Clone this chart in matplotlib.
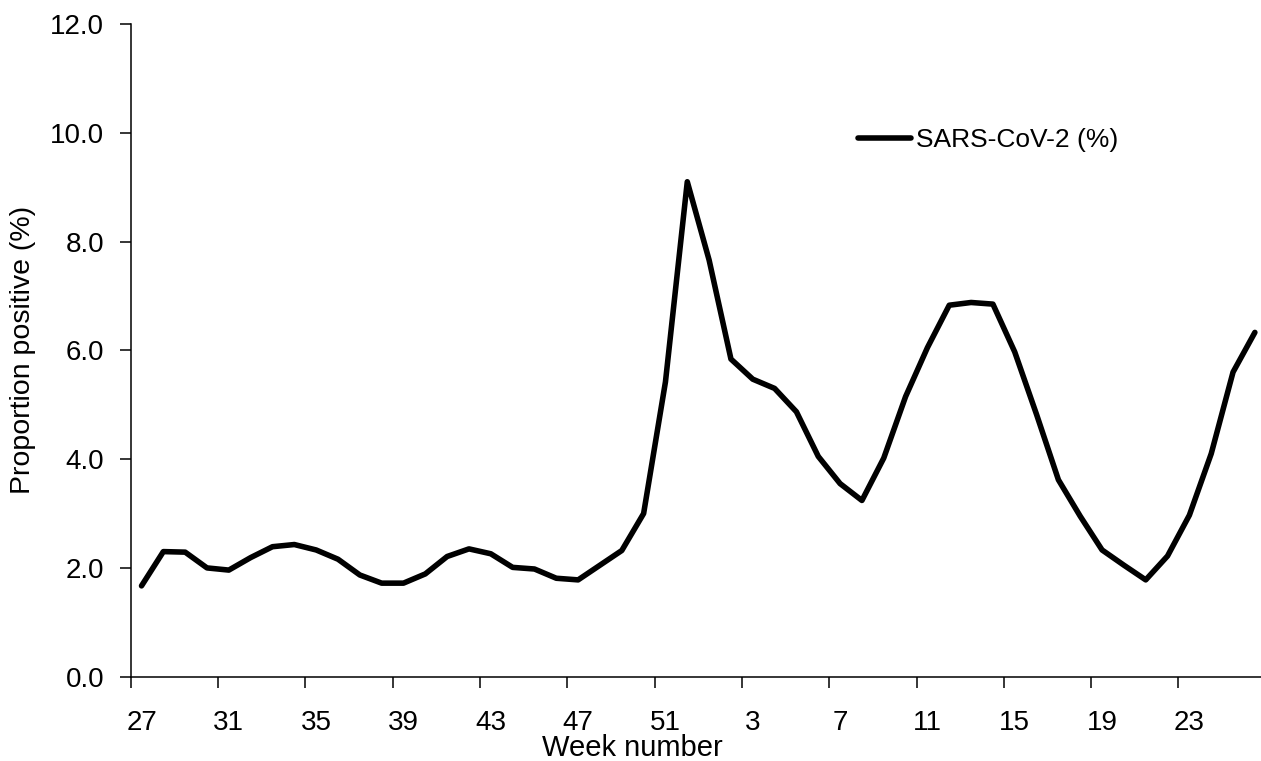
#!/usr/bin/env python3
"""Weekly SARS-CoV-2 proportion positive, line chart."""

import matplotlib
matplotlib.use('Agg')
import matplotlib.pyplot as plt

# week numbers (categories), week 27 through week 26 of the following year
WEEKS = [27, 28, 29, 30, 31, 32, 33, 34, 35, 36, 37, 38, 39, 40, 41, 42, 43,
         44, 45, 46, 47, 48, 49, 50, 51, 52, 1, 2, 3, 4, 5, 6, 7, 8, 9, 10,
         11, 12, 13, 14, 15, 16, 17, 18, 19, 20, 21, 22, 23, 24, 25, 26]

# proportion positive (%)
SARS_COV2 = [1.67, 2.30, 2.29, 2.00, 1.96, 2.19, 2.39, 2.43, 2.33, 2.16,
             1.87, 1.72, 1.72, 1.89, 2.21, 2.35, 2.26, 2.01, 1.98, 1.81,
             1.78, 2.05, 2.32, 3.00, 5.42, 9.10, 7.66, 5.84, 5.47, 5.30,
             4.87, 4.05, 3.55, 3.24, 4.02, 5.15, 6.05, 6.83, 6.88, 6.85,
             5.97, 4.82, 3.62, 2.95, 2.33, 2.05, 1.78, 2.22, 2.97, 4.10,
             5.60, 6.33]

Y_TICKS = [0, 2, 4, 6, 8, 10, 12]
LABEL_EVERY = 4


def main():
    plt.rcParams.update({
        "font.family": ["Liberation Sans", "DejaVu Sans"],
        "font.size": 20,
        "axes.linewidth": 1.1,
        "xtick.major.width": 1.1,
        "ytick.major.width": 1.1,
    })

    W, H = 1261, 761
    fig = plt.figure(figsize=(W / 100, H / 100), dpi=100)
    left, right, bottom, top = 130.6, 1265.8, 676.7, 24.0
    ax = fig.add_axes([left / W, 1 - bottom / H, (right - left) / W, (bottom - top) / H])

    x = list(range(len(WEEKS)))
    ax.plot(x, SARS_COV2, color="black", linewidth=4.0, solid_joinstyle="round",
            solid_capstyle="round", label="SARS-CoV-2 (%)")

    ax.set_xlim(-0.5, len(WEEKS) - 0.5)
    ax.set_ylim(0, 12)

    # tick marks between categories, labels centred on categories
    ax.set_xticks([i - 0.5 for i in range(0, len(WEEKS), LABEL_EVERY)])
    ax.set_xticklabels([])
    lab_pos = list(range(0, len(WEEKS), LABEL_EVERY))
    ax.set_xticks(lab_pos, minor=True)
    ax.set_xticklabels([str(WEEKS[i]) for i in lab_pos], minor=True)
    ax.tick_params(axis="x", which="major", direction="out", length=8)
    ax.tick_params(axis="x", which="minor", length=0, pad=24)

    ax.set_yticks(Y_TICKS)
    ax.set_yticklabels([f"{v:.1f}" for v in Y_TICKS])
    ax.tick_params(axis="y", direction="out", length=8, pad=11)

    for s in ["top", "right"]:
        ax.spines[s].set_visible(False)

    ax.set_ylabel("Proportion positive (%)", fontsize=20.5)
    ax.yaxis.set_label_coords(-0.083, 0.5)
    ax.set_xlabel("Week number", fontsize=21)
    ax.xaxis.set_label_coords((632 - left) / (right - left), -0.088)

    fig.legend(loc="center left", bbox_to_anchor=(858 / W, 1 - 140 / H),
               frameon=False, handlelength=2.0, handletextpad=0.2,
               borderpad=0, borderaxespad=0, fontsize=19)

    fig.savefig("out.png", dpi=100)
    plt.close()


if __name__ == "__main__":
    main()
